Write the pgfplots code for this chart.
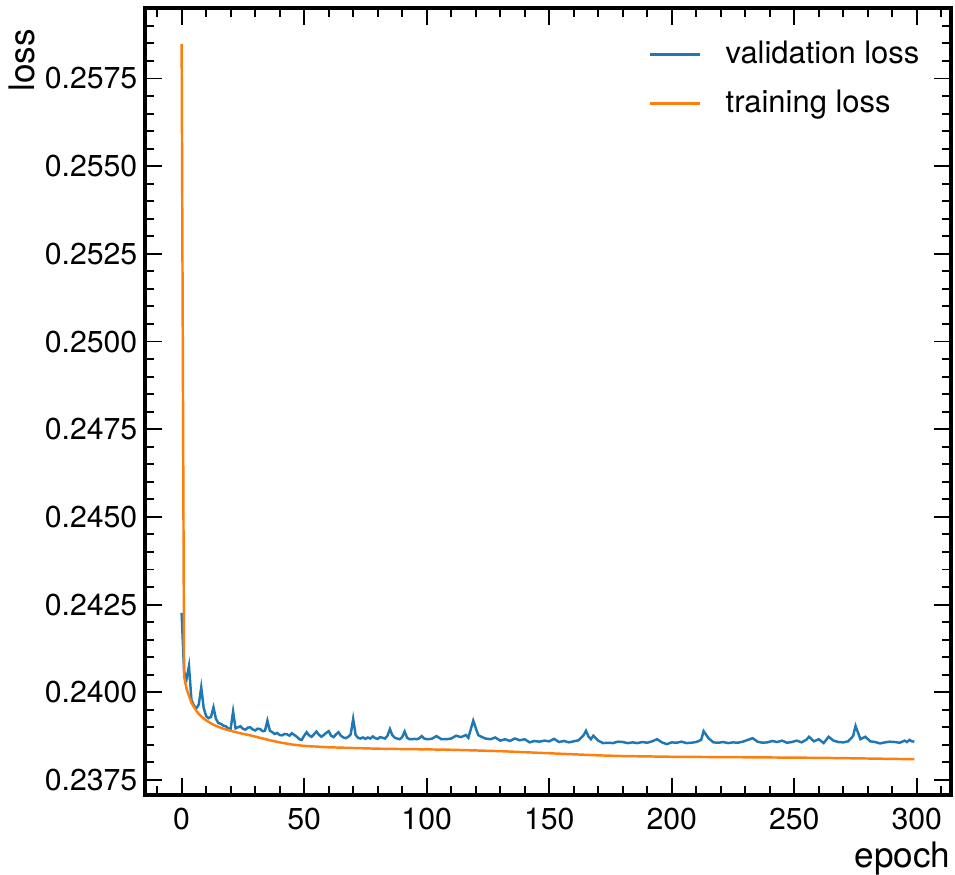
\documentclass[border=0pt]{standalone}
\usepackage{fontspec}
\setmainfont{TeX Gyre Heros}
\usepackage{pgfplots}
\pgfplotsset{compat=1.18}
\definecolor{tabblue}{HTML}{1F77B4}
\definecolor{taborange}{HTML}{FF7F0E}
\begin{document}
\begin{tikzpicture}
\begin{axis}[
  at={(0,0)}, anchor=south west,
  scale only axis, width=80.6mm, height=78.7mm,
  xmin=-14.95, xmax=313.95, ymin=0.23707, ymax=0.25951,
  xtick={0,50,100,150,200,250,300},
  ytick={0.2375,0.2400,0.2425,0.2450,0.2475,0.2500,0.2525,0.2550,0.2575},
  minor xtick={-10,0,10,...,310},
  minor ytick={0.2375,0.2380,...,0.2595},
  scaled y ticks=false,
  yticklabel style={/pgf/number format/fixed, /pgf/number format/fixed zerofill, /pgf/number format/precision=4, /pgf/number format/assume math mode=true},
  xticklabel style={/pgf/number format/assume math mode=true},
  tick align=inside, tick pos=both,
  major tick length=1.7mm, minor tick length=0.9mm,
  axis line style={line width=0.9pt},
  every tick/.style={black, line width=0.55pt},
  tick label style={font=\fontsize{8.6}{10}\selectfont, inner sep=0pt},
  xticklabel style={anchor=north, yshift=-1.2mm},
  yticklabel style={anchor=east, xshift=-0.7mm},
  xlabel={epoch}, ylabel={loss},
  label style={font=\fontsize{10}{12}\selectfont},
  xlabel style={at={(axis description cs:1,-0.0915)}, anchor=base east, inner sep=0pt},
  ylabel style={at={(axis description cs:-0.1375,0.974)}, anchor=base east, inner sep=0pt},
  legend style={draw=none, fill=none, at={(axis description cs:0.9615,0.9593)}, anchor=north east,
    inner sep=0pt, row sep=2.1mm, column sep=2.4mm, nodes={inner sep=0pt},
    font=\fontsize{8.8}{10}\selectfont},
  legend cell align=left,
  legend image code/.code={\draw[#1] (0mm,0mm) -- (5mm,0mm);},
]
\addplot[tabblue, line width=0.7pt] coordinates {
(0,0.24226)(1,0.24058)(2,0.24038)(3,0.24075)(4,0.23978)(5,0.23962)(6,0.23954)(7,0.23965)(8,0.24014)(9,0.23955)
(10,0.23932)(11,0.23926)(12,0.23930)(13,0.23957)(14,0.23924)(15,0.23912)(16,0.23910)(17,0.23905)(18,0.23903)(19,0.23897)
(20,0.23895)(21,0.23945)(22,0.23897)(23,0.23900)(24,0.23903)(25,0.23896)(26,0.23893)(27,0.23899)(28,0.23900)(29,0.23894)
(30,0.23891)(31,0.23896)(32,0.23895)(33,0.23889)(34,0.23890)(35,0.23919)(36,0.23890)(37,0.23886)(38,0.23881)(39,0.23884)
(40,0.23878)(41,0.23877)(42,0.23881)(43,0.23880)(44,0.23876)(45,0.23883)(46,0.23878)(47,0.23873)(48,0.23866)(49,0.23864)
(50,0.23876)(51,0.23886)(52,0.23877)(53,0.23873)(54,0.23880)(55,0.23888)(56,0.23879)(57,0.23873)(58,0.23878)(59,0.23884)
(60,0.23889)(61,0.23876)(62,0.23872)(63,0.23880)(64,0.23886)(65,0.23876)(66,0.23871)(67,0.23869)(68,0.23873)(69,0.23880)
(70,0.23924)(71,0.23878)(72,0.23870)(73,0.23868)(74,0.23871)(75,0.23867)(76,0.23871)(77,0.23868)(78,0.23874)(79,0.23869)
(80,0.23867)(81,0.23872)(82,0.23870)(83,0.23868)(84,0.23876)(85,0.23895)(86,0.23877)(87,0.23870)(88,0.23868)(89,0.23866)
(90,0.23872)(91,0.23888)(92,0.23870)(93,0.23866)(94,0.23866)(95,0.23867)(96,0.23866)(97,0.23869)(98,0.23875)(99,0.23868)
(100,0.23866)(102,0.23867)(104,0.23875)(106,0.23866)(108,0.23866)(110,0.23868)(112,0.23876)(114,0.23872)(116,0.23878)(117,0.23870)
(119,0.23919)(121,0.23878)(122,0.23874)(124,0.23868)(126,0.23866)(128,0.23871)(130,0.23862)(132,0.23866)(134,0.23861)(136,0.23868)
(138,0.23863)(140,0.23866)(142,0.23857)(144,0.23861)(146,0.23859)(148,0.23862)(150,0.23860)(152,0.23867)(154,0.23858)(156,0.23861)
(158,0.23857)(160,0.23860)(162,0.23863)(164,0.23877)(165,0.23890)(166,0.23874)(167,0.23866)(168,0.23876)(170,0.23862)(172,0.23855)
(174,0.23856)(176,0.23855)(178,0.23859)(180,0.23858)(182,0.23855)(184,0.23857)(186,0.23855)(188,0.23858)(190,0.23856)(192,0.23860)
(194,0.23866)(196,0.23857)(198,0.23852)(200,0.23857)(202,0.23856)(204,0.23859)(206,0.23855)(208,0.23856)(210,0.23858)(212,0.23864)
(213,0.23889)(215,0.23869)(217,0.23857)(219,0.23856)(221,0.23858)(223,0.23855)(225,0.23857)(227,0.23856)(229,0.23859)(231,0.23864)
(233,0.23869)(235,0.23859)(237,0.23856)(239,0.23857)(241,0.23861)(243,0.23858)(245,0.23862)(247,0.23856)(249,0.23858)(251,0.23862)
(253,0.23857)(255,0.23865)(256,0.23873)(258,0.23860)(260,0.23866)(262,0.23855)(264,0.23873)(266,0.23862)(268,0.23858)(270,0.23857)
(272,0.23860)(274,0.23875)(275,0.23904)(277,0.23866)(279,0.23873)(281,0.23860)(283,0.23858)(285,0.23854)(287,0.23857)(289,0.23859)
(291,0.23858)(293,0.23856)(295,0.23862)(296,0.23858)(297,0.23864)(298,0.23860)(299,0.23859)
};
\addlegendentry{validation loss}
\addplot[taborange, line width=0.7pt] coordinates {
(0,0.25849)(1,0.24045)(2,0.24010)(3,0.23990)(4,0.23970)(5,0.23958)(6,0.23947)(7,0.23938)(8,0.23931)(10,0.23920)
(12,0.23911)(14,0.23904)(17,0.23896)(20,0.23890)(24,0.23883)(28,0.23877)(32,0.23870)(36,0.23863)(40,0.23857)(45,0.23851)
(50,0.23847)(55,0.23845)(60,0.23843)(70,0.23841)(80,0.23839)(90,0.23838)(100,0.23837)(110,0.23836)(120,0.23834)(130,0.23832)
(140,0.23829)(150,0.23826)(160,0.23823)(170,0.23820)(180,0.23818)(190,0.23817)(200,0.23816)(220,0.23815)(240,0.23814)(260,0.23813)
(280,0.23811)(299,0.23809)
};
\addlegendentry{training loss}
\end{axis}
\pgfresetboundingbox
\path[use as bounding box] (-14.5mm,-8.0mm) rectangle (81.0mm,79.5mm);
\end{tikzpicture}
\end{document}
